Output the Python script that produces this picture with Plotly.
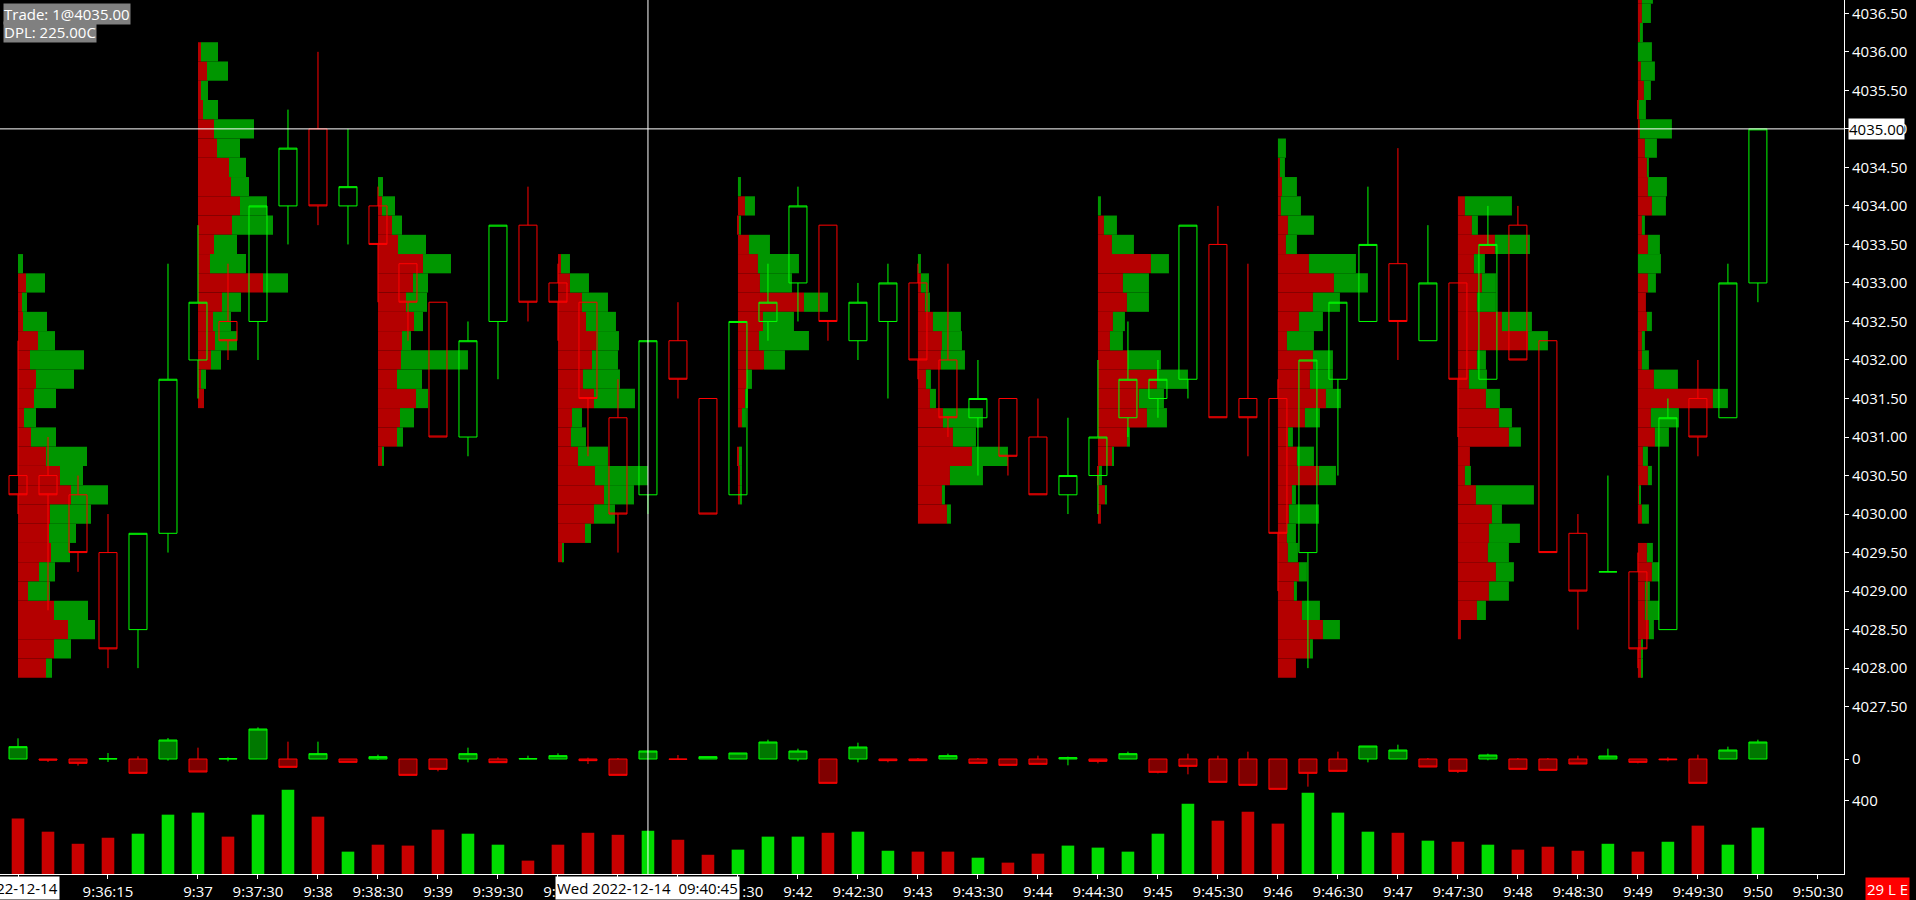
import plotly.graph_objects as go

# ---------------- price bars (15 s bars, bar 0 = 09:35:30) ----------------
OPEN = [4030.5, 4030.5, 4030.25, 4029.5, 4028.5, 4029.75, 4032.0, 4032.5, 4032.5, 4034.0,
        4035.0, 4034.0, 4034.0, 4033.25, 4032.75, 4031.0, 4032.5, 4033.75, 4033.0, 4032.75,
        4031.25, 4030.25, 4032.25, 4031.5, 4030.25, 4032.5, 4033.0, 4033.75, 4032.25, 4032.5,
        4033.0, 4032.0, 4031.25, 4031.5, 4031.0, 4030.25, 4030.5, 4031.25, 4031.5, 4031.75,
        4033.5, 4031.5, 4031.5, 4029.5, 4031.75, 4032.5, 4033.25, 4032.25, 4033.0, 4031.75,
        4033.75, 4032.25, 4029.75, 4029.25, 4029.25, 4028.5, 4031.5, 4031.25, 4033.0]
HIGH = [4032.25, 4031.0, 4030.5, 4030.0, 4029.75, 4033.25, 4033.75, 4033.25, 4034.0, 4035.25,
        4036.0, 4035.0, 4034.25, 4033.25, 4032.75, 4032.5, 4033.75, 4034.25, 4033.25, 4032.75,
        4031.75, 4032.25, 4032.75, 4031.5, 4032.5, 4033.25, 4034.25, 4033.75, 4033.0, 4033.25,
        4033.25, 4033.25, 4032.0, 4031.5, 4031.5, 4031.25, 4032.0, 4032.5, 4032.0, 4033.75,
        4034.0, 4033.25, 4031.75, 4032.0, 4032.75, 4034.25, 4034.75, 4033.75, 4033.0, 4034.0,
        4034.0, 4032.25, 4030.0, 4030.5, 4029.5, 4031.5, 4032.0, 4033.25, 4035.0]
LOW = [4030.0, 4028.75, 4029.25, 4028.0, 4028.0, 4029.5, 4031.5, 4032.0, 4032.0, 4033.5,
       4033.75, 4033.5, 4032.75, 4032.25, 4031.0, 4030.75, 4031.75, 4032.5, 4032.25, 4030.75,
       4029.5, 4030.0, 4031.5, 4030.0, 4030.25, 4032.25, 4032.5, 4032.25, 4032.0, 4031.5,
       4031.75, 4031.0, 4030.5, 4030.5, 4030.25, 4030.0, 4030.0, 4031.0, 4031.25, 4031.5,
       4031.25, 4030.75, 4029.0, 4028.0, 4030.5, 4032.5, 4032.0, 4032.25, 4031.0, 4031.75,
       4032.0, 4029.5, 4028.5, 4029.25, 4028.0, 4028.5, 4030.75, 4031.25, 4032.75]
CLOSE = [4030.25, 4030.25, 4029.5, 4028.25, 4029.75, 4031.75, 4032.75, 4032.25, 4034.0, 4034.75,
         4034.0, 4034.25, 4033.5, 4032.75, 4031.0, 4032.25, 4033.75, 4032.75, 4032.75, 4031.5,
         4030.0, 4032.25, 4031.75, 4030.0, 4032.5, 4032.75, 4034.0, 4032.5, 4032.75, 4033.0,
         4032.0, 4031.25, 4031.5, 4030.75, 4030.25, 4030.5, 4031.0, 4031.75, 4031.75, 4033.75,
         4031.25, 4031.25, 4029.75, 4032.0, 4032.75, 4033.5, 4032.5, 4033.0, 4031.75, 4033.5,
         4032.0, 4029.5, 4029.0, 4029.25, 4028.25, 4031.25, 4031.0, 4033.0, 4035.0]

VOLUME = [303, 231, 165, 198, 220, 324, 335, 204, 324, 460,
          313, 122, 160, 155, 242, 220, 160, 73, 160, 225,
          214, 236, 187, 105, 133, 204, 204, 225, 231, 127,
          122, 122, 89, 62, 111, 155, 144, 122, 220, 384,
          291, 340, 275, 444, 335, 231, 225, 182, 176, 160,
          133, 149, 127, 165, 122, 176, 264, 160, 253]

# bar delta candles (open at 0)
DELTA_CLOSE = [37, -3, -13, 1, -43, 57, -39, 1, 90, -25,
               16, -10, 7, -49, -31, 16, -11, 1, 10, -5,
               -49, 24, -1, 7, 18, 51, 24, -73, 36, -5,
               -5, 10, -13, -19, -16, 4, -7, 16, -40, -22,
               -70, -79, -91, -43, -37, 39, 27, -24, -37, 12,
               -31, -34, -15, 9, -10, -2, -73, 27, 51]
DELTA_HIGH = [62, 0, 0, 18, 8, 63, 34, 5, 95, 52,
              52, 0, 13, 0, 0, 34, 5, 10, 17, 4,
              3, 24, 12, 7, 18, 58, 31, 0, 49, 0,
              3, 16, 3, 0, 10, 7, 0, 22, 0, 16,
              10, 22, 0, 0, 22, 39, 43, 3, 0, 16,
              3, 3, 10, 31, 0, 5, 13, 37, 58]
DELTA_LOW = [0, -9, -20, -9, -43, -5, -39, -7, 0, -25,
             0, -10, -3, -49, -37, -10, -11, 0, 0, -15,
             -49, 0, -1, 0, 0, 0, -7, -73, -10, -10,
             -5, 0, -13, -19, -16, -19, -13, 0, -43, -46,
             -70, -79, -91, -83, -39, -10, 0, -24, -42, -4,
             -31, -34, -15, 0, -13, -7, -73, 0, 0]

# ---------------- volume profiles (every 6 bars), levels from top price down ----------------
PROFILE_START_BARS = [0, 6, 12, 18, 24, 30, 36, 42, 48, 54]
PROFILE_TOP_PRICES = [4033.25, 4036.0, 4034.25, 4033.25, 4034.25, 4033.25, 4034.0, 4034.75, 4034.0, 4036.75]

P0_BID = [0, 8, 4, 5, 20, 12, 18, 16, 6, 13, 28, 42, 53, 32, 31, 33, 21, 10, 36, 50, 36, 28]
P0_ASK = [5, 19, 5, 24, 17, 54, 38, 22, 12, 25, 41, 23, 37, 41, 27, 19, 16, 22, 34, 27, 17, 6]
P1_BID = [3, 9, 3, 5, 16, 19, 31, 33, 42, 34, 16, 12, 65, 24, 15, 17, 13, 3, 6]
P1_ASK = [17, 21, 7, 15, 40, 23, 17, 18, 27, 41, 23, 36, 25, 19, 18, 22, 10, 5, 0]
P2_BID = [0, 4, 14, 20, 45, 35, 28, 36, 24, 23, 19, 38, 22, 19, 4]
P2_ASK = [5, 13, 10, 28, 28, 15, 21, 9, 9, 67, 25, 12, 14, 6, 2]
P3_BID = [3, 12, 24, 28, 38, 34, 25, 36, 14, 13, 20, 37, 46, 36, 27, 5]
P3_ASK = [9, 19, 26, 30, 23, 26, 37, 41, 10, 15, 30, 53, 30, 21, 6, 1]
P4_BID = [0, 7, 1, 11, 20, 22, 66, 25, 21, 26, 9, 7, 4, 0, 1, 2, 2]
P4_ASK = [3, 10, 2, 21, 41, 32, 24, 31, 50, 21, 5, 3, 4, 0, 3, 2, 2]
P5_BID = [0, 3, 7, 15, 24, 23, 8, 12, 25, 35, 54, 32, 24, 29]
P5_ASK = [3, 8, 5, 28, 20, 24, 5, 6, 40, 23, 36, 33, 3, 4]
P6_BID = [0, 6, 14, 53, 25, 29, 15, 12, 30, 59, 41, 49, 29, 15, 1, 7, 3]
P6_ASK = [3, 13, 22, 18, 26, 22, 12, 13, 33, 31, 25, 20, 3, 1, 3, 2, 0]
P7_BID = [0, 2, 4, 3, 10, 8, 31, 56, 35, 21, 9, 35, 32, 48, 27, 10, 19, 41, 14, 11, 9, 10, 21, 16, 24, 45, 32, 18]
P7_ASK = [8, 5, 15, 20, 26, 11, 47, 34, 27, 24, 27, 20, 23, 15, 15, 5, 17, 17, 4, 30, 9, 10, 8, 3, 18, 17, 3, 0]
P8_BID = [7, 14, 37, 16, 24, 19, 44, 70, 19, 11, 28, 41, 51, 12, 7, 18, 34, 31, 30, 38, 31, 19, 3]
P8_ASK = [47, 6, 35, 11, 14, 19, 30, 20, 9, 18, 14, 13, 12, 0, 6, 58, 10, 31, 21, 18, 20, 9, 0]
P9_BID = [4, 4, 2, 0, 3, 6, 1, 2, 7, 9, 10, 14, 4, 10, 0, 10, 8, 9, 4, 4, 16, 75, 13, 17, 5, 10, 2, 4, 0, 9, 14, 7, 7, 11, 4, 4]
P9_ASK = [11, 9, 3, 14, 14, 7, 7, 32, 12, 2, 19, 14, 3, 12, 23, 8, 0, 5, 3, 7, 24, 15, 28, 14, 5, 4, 1, 7, 0, 6, 7, 5, 14, 5, 1, 1]

PROFILE_BIDS = [P0_BID, P1_BID, P2_BID, P3_BID, P4_BID, P5_BID, P6_BID, P7_BID, P8_BID, P9_BID]
PROFILE_ASKS = [P0_ASK, P1_ASK, P2_ASK, P3_ASK, P4_ASK, P5_ASK, P6_ASK, P7_ASK, P8_ASK, P9_ASK]

# ---------------- axis labels ----------------
TICK_BARS = [0, 3, 6, 8, 10, 12, 14, 16, 18, 20, 22, 24, 26, 28, 30, 32, 34, 36, 38, 40,
             42, 44, 46, 48, 50, 52, 54, 56, 58, 60]
TICK_LABELS = ["", "9:36:15", "9:37", "9:37:30", "9:38", "9:38:30", "9:39", "9:39:30", "9:40",
               "9:40:30", "9:41", "9:41:30", "9:42", "9:42:30", "9:43", "9:43:30", "9:44",
               "9:44:30", "9:45", "9:45:30", "9:46", "9:46:30", "9:47", "9:47:30", "9:48",
               "9:48:30", "9:49", "9:49:30", "9:50", "9:50:30"]
PRICE_TICKS = [4027.5, 4028.0, 4028.5, 4029.0, 4029.5, 4030.0, 4030.5, 4031.0, 4031.5, 4032.0,
               4032.5, 4033.0, 4033.5, 4034.0, 4034.5, 4035.0, 4035.5, 4036.0, 4036.5]
SESSION_DATE = "2022-12-14"
CURSOR_BAR = 21
CURSOR_LABEL = "Wed 2022-12-14  09:40:45"
LAST_PRICE = 4035.00
INFO_LINES = ["Trade: 1@4035.00", "DPL: 225.00C"]
STATUS_TEXT = "29 L E"

# ---------------- styling ----------------
TICK_SIZE = 0.25
PROFILE_WIDTH_BARS = 3.0
FONT = "Open Sans"
GREEN_LINE = "#00ff00"
RED_LINE = "#ff0000"
PROF_RED = "#b40000"
PROF_GREEN = "#009600"
VOL_GREEN = "#00dc00"
VOL_RED = "#c80000"

bars = list(range(len(OPEN)))

# build profile segments
bid_y, bid_x, bid_base, ask_y, ask_x, ask_base = [], [], [], [], [], []
for start, top, bids, asks in zip(PROFILE_START_BARS, PROFILE_TOP_PRICES, PROFILE_BIDS, PROFILE_ASKS):
    vmax = max(b + a for b, a in zip(bids, asks))
    k = PROFILE_WIDTH_BARS / vmax
    for j, (b, a) in enumerate(zip(bids, asks)):
        p = top - j * TICK_SIZE
        if b > 0:
            bid_y.append(p); bid_x.append(b * k); bid_base.append(start)
        if a > 0:
            ask_y.append(p); ask_x.append(a * k); ask_base.append(start + b * k)

fig = go.Figure()
fig.add_trace(go.Bar(orientation="h", y=bid_y, x=bid_x, base=bid_base, width=TICK_SIZE,
                     marker=dict(color=PROF_RED, line=dict(width=0)), xaxis="x", yaxis="y"))
fig.add_trace(go.Bar(orientation="h", y=ask_y, x=ask_x, base=ask_base, width=TICK_SIZE,
                     marker=dict(color=PROF_GREEN, line=dict(width=0)), xaxis="x", yaxis="y"))

fig.add_trace(go.Candlestick(
    x=bars, open=OPEN, high=HIGH, low=LOW, close=CLOSE, whiskerwidth=0,
    increasing=dict(line=dict(color=GREEN_LINE, width=1), fillcolor="rgba(0,0,0,0)"),
    decreasing=dict(line=dict(color=RED_LINE, width=1), fillcolor="rgba(0,0,0,0)"),
    xaxis="x", yaxis="y"))

fig.add_trace(go.Candlestick(
    x=bars, open=[0] * len(bars), high=DELTA_HIGH, low=DELTA_LOW, close=DELTA_CLOSE, whiskerwidth=0,
    increasing=dict(line=dict(color=GREEN_LINE, width=1), fillcolor="#007800"),
    decreasing=dict(line=dict(color=RED_LINE, width=1), fillcolor="#800000"),
    xaxis="x", yaxis="y2"))

vol_colors = [VOL_GREEN if c >= o else VOL_RED for o, c in zip(OPEN, CLOSE)]
fig.add_trace(go.Bar(x=bars, y=VOLUME, width=0.42, marker=dict(color=vol_colors, line=dict(width=0)),
                     xaxis="x", yaxis="y3"))

W, H = 1916, 900
ML, MR, MT, MB = 0, 72, 0, 26
PH = H - MT - MB  # plot height in px


def dom(top_px, bot_px):
    return [(PH - bot_px) / PH, (PH - top_px) / PH]


axis_common = dict(showgrid=False, zeroline=False, showline=True, linecolor="white", linewidth=1,
                   ticks="outside", ticklen=4, tickcolor="white", side="right", anchor="x",
                   tickfont=dict(family=FONT, size=15, color="white"), fixedrange=True)

fig.update_layout(
    width=W, height=H, paper_bgcolor="black", plot_bgcolor="black",
    margin=dict(l=ML, r=MR, t=MT, b=MB, pad=0), showlegend=False, hovermode=False,
    barmode="overlay", boxgap=0.4, boxgroupgap=0,
    font=dict(family=FONT, color="white", size=15),
    xaxis=dict(range=[-0.6, 60.87], showgrid=False, zeroline=False, showline=True, linecolor="white",
               ticks="outside", ticklen=4, tickcolor="white", tickvals=TICK_BARS, ticktext=TICK_LABELS,
               tickfont=dict(family=FONT, size=15, color="white"), anchor="y3",
               rangeslider=dict(visible=False)),
    yaxis=dict(domain=dom(0, 740), range=[4027.067, 4036.673], tickvals=PRICE_TICKS,
               tickformat=".2f", **axis_common),
    yaxis2=dict(domain=dom(715, 800), range=[-123, 132], tickvals=[0], ticktext=["0"], **axis_common),
    yaxis3=dict(domain=dom(750, 874), range=[0, 677], tickvals=[400], ticktext=["400"], **axis_common),
)

# cursor lines
fig.add_shape(type="line", xref="paper", x0=0, x1=1, yref="y", y0=LAST_PRICE, y1=LAST_PRICE,
              line=dict(color="white", width=1))
fig.add_shape(type="line", xref="x", x0=CURSOR_BAR, x1=CURSOR_BAR, yref="paper", y0=0, y1=1,
              line=dict(color="white", width=1))

# info boxes top-left
for i, txt in enumerate(INFO_LINES):
    fig.add_annotation(text=txt, xref="paper", yref="paper", x=0, y=1, xanchor="left", yanchor="top",
                       xshift=3, yshift=-3 - 18 * i, showarrow=False, bgcolor="#808080", borderpad=0,
                       font=dict(family=FONT, size=15, color="white"))

# date label at first bar, cursor time label
fig.add_annotation(text=SESSION_DATE, xref="x", yref="paper", x=0, y=0, yanchor="top", yshift=-2,
                   showarrow=False, bgcolor="white", borderpad=1, font=dict(family=FONT, size=15, color="black"))
fig.add_annotation(text=CURSOR_LABEL, xref="x", yref="paper", x=CURSOR_BAR, y=0, yanchor="top", yshift=-2,
                   showarrow=False, bgcolor="white", borderpad=1, font=dict(family=FONT, size=15, color="black"))

# last price label on axis
fig.add_annotation(text=f"{LAST_PRICE:.2f}", xref="paper", yref="y", x=1, y=LAST_PRICE, xanchor="left",
                   xshift=4, showarrow=False, bgcolor="white", borderpad=0,
                   font=dict(family=FONT, size=15, color="black"))

# status box bottom-right
fig.add_annotation(text=STATUS_TEXT, xref="paper", yref="paper", x=1, y=0, xanchor="left", yanchor="top",
                   xshift=21, yshift=-3, showarrow=False, bgcolor="#ff0000", borderpad=1,
                   font=dict(family=FONT, size=15, color="white"))

fig.write_html("out.html", config={"displayModeBar": False},
               post_script="document.body.style.margin='0';document.body.style.overflow='hidden';")
